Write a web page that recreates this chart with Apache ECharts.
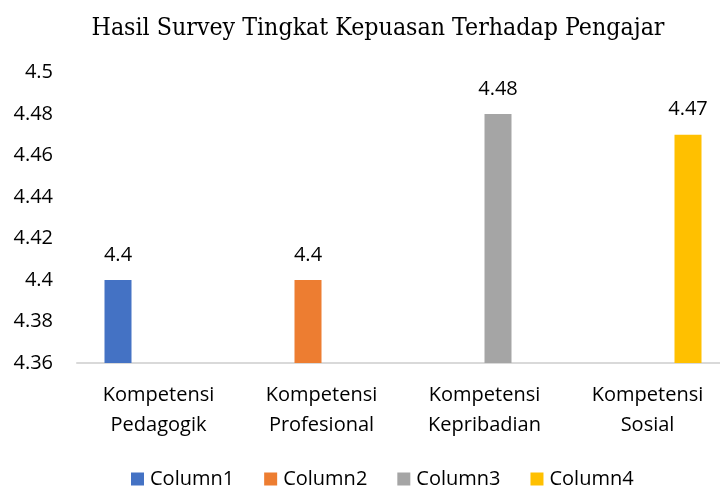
<!DOCTYPE html>
<html>
<head>
<meta charset="utf-8">
<script src="https://cdn.jsdelivr.net/npm/echarts@6/dist/echarts.min.js"></script>
<style>html,body{margin:0;padding:0;background:#fff;overflow:hidden}body{width:720px;height:489px}#c{width:729px;height:489px}</style>
</head>
<body>
<div id="c"></div>
<script>
const categories = ['Kompetensi\nPedagogik', 'Kompetensi\nProfesional', 'Kompetensi\nKepribadian', 'Kompetensi\nSosial'];
const seriesNames = ['Column1', 'Column2', 'Column3', 'Column4'];
const column1 = [4.4, null, null, null];
const column2 = [null, 4.4, null, null];
const column3 = [null, null, 4.48, null];
const column4 = [null, null, null, 4.47];
const colors = ['#4472C4', '#ED7D31', '#A5A5A5', '#FFC000'];
const yMin = 4.36, yMax = 4.5, yStep = 0.02;

const FONT = '"Open Sans", sans-serif';
const values = [column1, column2, column3, column4];
const chart = echarts.init(document.getElementById('c'), null, {renderer: 'canvas'});
chart.setOption({
  animation: false,
  backgroundColor: '#fff',
  color: colors,
  title: {
    text: 'Hasil Survey Tingkat Kepuasan Terhadap Pengajar',
    left: 373, top: 11, textAlign: 'center',
    textStyle: {fontFamily: '"DejaVu Serif Condensed", "DejaVu Serif", serif', fontSize: 24.7, fontWeight: 'normal', color: '#000'}
  },
  legend: {
    data: seriesNames, left: 131, top: 469, padding: 0,
    itemWidth: 13, itemHeight: 13, itemGap: 30, icon: 'rect',
    textStyle: {fontFamily: FONT, fontSize: 20, color: '#000', padding: [0, 0, 0, 1]}
  },
  grid: {left: 77, top: 72.5, right: 0, height: 290.5, containLabel: false},
  xAxis: {
    type: 'category', data: categories,
    axisLine: {lineStyle: {color: '#D9D9D9', width: 2}},
    axisTick: {show: false},
    axisLabel: {interval: 0, margin: 17, lineHeight: 30, fontFamily: FONT, fontSize: 20, color: '#000'}
  },
  yAxis: {
    type: 'value', min: yMin, max: yMax, interval: yStep,
    splitLine: {show: false}, axisLine: {show: false}, axisTick: {show: false},
    axisLabel: {margin: 24, fontFamily: FONT, fontSize: 20, color: '#000',
      formatter: v => String(+v.toFixed(2))}
  },
  series: seriesNames.map((n, i) => ({
    name: n, type: 'bar', data: values[i], barWidth: 27, barGap: '0%',
    label: {show: true, position: 'top', distance: 15, fontFamily: FONT, fontSize: 20, color: '#000',
      formatter: p => String(p.value)}
  }))
});
</script>
</body>
</html>
